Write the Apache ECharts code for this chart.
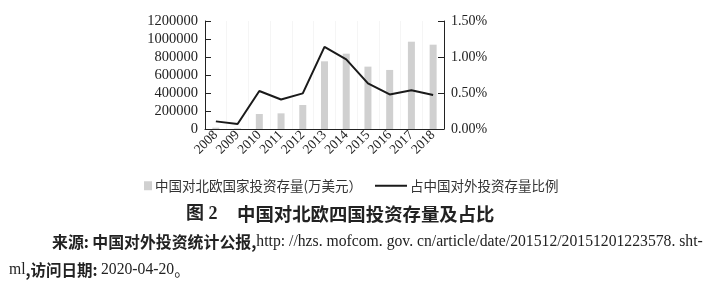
<!DOCTYPE html>
<html><head><meta charset="utf-8">
<script src="https://cdn.jsdelivr.net/npm/echarts@6/dist/echarts.min.js"></script>
<style>html,body{margin:0;padding:0;background:#fff}#c{width:721px;height:290px}</style>
</head><body><div id="c"></div>
<script>
const years = ['2008','2009','2010','2011','2012','2013','2014','2015','2016','2017','2018'];
const stockValues = [15000, 7000, 167000, 174000, 267000, 752000, 837000, 693000, 656000, 970000, 937000];
const shareValues = [0.106, 0.069, 0.528, 0.41, 0.495, 1.14, 0.968, 0.634, 0.48, 0.537, 0.472];
const leftTicks = [0, 1200000, 200000];
const rightTicks = [0, 1.5, 0.5];
const barName = '中国对北欧国家投资存量(万美元）';
const lineName = '占中国对外投资存量比例';
const titleText = '中国对北欧四国投资存量及占比';

const serif = '"Liberation Serif","DejaVu Serif",serif';
const cjk = '"Noto Sans CJK SC",sans-serif';
const chart = echarts.init(document.getElementById('c'), null, {renderer:'canvas'});
chart.setOption({
  animation:false,
  backgroundColor:'#fff',
  grid:{left:205, right:277, top:21, height:108},
  legend:[
    {data:[barName], left:139, top:174, itemWidth:8, itemHeight:9, itemGap:5, icon:'rect',
     textStyle:{fontFamily:cjk, fontSize:13.5, color:'#333', padding:[0,0,0,-2]}},
    {data:[lineName], left:370, top:174, itemWidth:32, itemHeight:2, icon:'rect',
     textStyle:{fontFamily:cjk, fontSize:13.5, color:'#333', padding:[0,0,0,-2]}}
  ],
  xAxis:{type:'category', data:years,
    axisLine:{lineStyle:{color:'#222', width:1}}, axisTick:{show:false},
    splitLine:{show:true, lineStyle:{color:'#f5f5f5'}},
    axisLabel:{rotate:45, fontFamily:serif, fontSize:13.5, color:'#222', margin:4, interval:0}},
  yAxis:[
    {type:'value', min:leftTicks[0], max:leftTicks[1], interval:leftTicks[2],
     axisLine:{show:true, lineStyle:{color:'#222'}}, axisTick:{show:true, inside:true, length:6, lineStyle:{color:'#222'}},
     splitLine:{show:false},
     axisLabel:{fontFamily:serif, fontSize:14.5, color:'#222', margin:7, formatter:v=>String(v)}},
    {type:'value', min:rightTicks[0], max:rightTicks[1], interval:rightTicks[2], position:'right',
     axisLine:{show:true, lineStyle:{color:'#222'}}, axisTick:{show:true, inside:true, length:6, lineStyle:{color:'#222'}},
     splitLine:{show:false},
     axisLabel:{fontFamily:serif, fontSize:14, color:'#222', margin:7, formatter:v=>v.toFixed(2)+'%'}}
  ],
  series:[
    {name:barName, type:'bar', data:stockValues, barWidth:7, itemStyle:{color:'#d0d0d0'}, yAxisIndex:0},
    {name:lineName, type:'line', data:shareValues, yAxisIndex:1, symbol:'none',
     lineStyle:{color:'#1a1a1a', width:2}, itemStyle:{color:'#1a1a1a'}}
  ],
  graphic:[
    {type:'text', left:186, top:205, style:{text:'图 2', fontFamily:'"Liberation Serif",'+cjk, fontWeight:'bold', fontSize:18, fill:'#222'}},
    {type:'text', left:237, top:205, style:{text:titleText, fontFamily:cjk, fontWeight:'bold', fontSize:18.4, fill:'#222'}},
    {type:'text', left:52, top:234, style:{
      text:'{b|来源:} {b|中国对外投资统计公报,}{u|http: //hzs. mofcom. gov. cn/article/date/201512/20151201223578. sht-}',
      rich:{b:{fontFamily:cjk, fontWeight:'bold', fontSize:15.9, fill:'#222'}, u:{fontFamily:serif, fontSize:15.7, fill:'#222'}}}},
    {type:'text', left:9, top:262, style:{
      text:'{u|ml}{b|,访问日期:} {u|2020-04-20}{c|。}',
      rich:{b:{fontFamily:cjk, fontWeight:'bold', fontSize:15.5, fill:'#222'}, u:{fontFamily:serif, fontSize:15.7, fill:'#222'},
            c:{fontFamily:cjk, fontSize:15.5, fill:'#222'}}}}
  ]
});
</script></body></html>
